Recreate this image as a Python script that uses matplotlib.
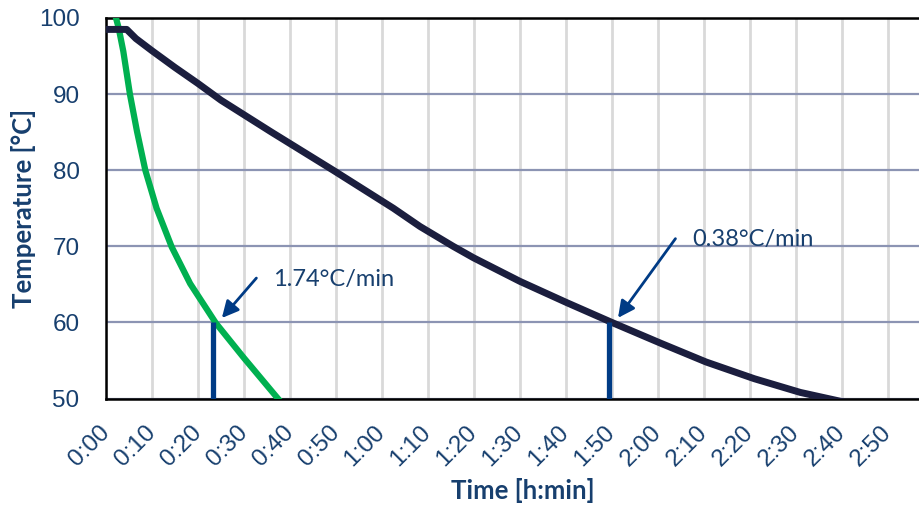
import matplotlib.pyplot as plt

plt.rcParams['font.family'] = ['Liberation Sans', 'DejaVu Sans']

# time in minutes, temperature in °C
navy_t = [0, 4.5, 6.5, 10, 15, 20, 25, 36, 49.4, 62.5, 68.3, 75.5, 79.9, 90, 100.2, 110,
          120.5, 130.5, 141, 151, 157, 160]
navy_temp = [98.5, 98.5, 97.3, 95.7, 93.5, 91.4, 89.2, 85.0, 80.0, 75.0, 72.6, 70.0, 68.5,
             65.4, 62.6, 60.0, 57.3, 54.8, 52.6, 50.8, 50.0, 49.6]

green_t = [1.9, 2.17, 2.75, 3.77, 5.2, 6.74, 8.55, 11.0, 14.3, 18.3, 23.9, 29.9, 37.1, 38.5]
green_temp = [100.6, 100.0, 98.7, 95.6, 90.0, 85.1, 80.0, 75.0, 69.9, 65.1, 59.9, 55.4, 50.2, 49.2]

mark_t = [23.3, 109.4]
mark_labels = ['1.74°C/min', '0.38°C/min']
mark_tip = [(24.8, 60.3), (111.0, 60.3)]
mark_text = [(36.3, 65.7), (127.4, 70.9)]

xticks = list(range(0, 180, 10))
xlabels = ['%d:%02d' % (m // 60, m % 60) for m in xticks]
yticks = [50, 60, 70, 80, 90, 100]

tick_color = '#173f6e'
arrow_color = '#003b85'

fig = plt.figure(figsize=(9.2, 5.05), dpi=100)
ax = fig.add_axes([106 / 920, 1 - 398.5 / 505, 814 / 920, (398.5 - 18) / 505])

ax.plot(green_t, green_temp, color='#00b050', linewidth=4.5, solid_capstyle='butt',
        solid_joinstyle='round', zorder=3)
ax.plot(navy_t, navy_temp, color='#1b1e3e', linewidth=5, solid_joinstyle='round', zorder=4)

for t in mark_t:
    ax.plot([t, t], [50, 60], color=arrow_color, linewidth=3.8, solid_capstyle='butt', zorder=5)

for lab, tip, pos in zip(mark_labels, mark_tip, mark_text):
    ax.annotate('', xy=tip, xytext=(pos[0] - 3.2, pos[1] + 0.4),
                arrowprops=dict(arrowstyle='-|>,head_length=1.0,head_width=0.5',
                                color=arrow_color, lw=2), zorder=6)
    ax.text(pos[0], pos[1], lab, fontsize=17, color=tick_color, family=['Lato', 'DejaVu Sans'],
            ha='left', va='center', zorder=6)

ax.set_xlim(0, 814 / 4.598)
ax.set_ylim(50, 100)
ax.set_xticks(xticks)
ax.set_xticklabels(xlabels, rotation=45, ha='right', va='center', rotation_mode='anchor')
ax.set_yticks(yticks)
ax.tick_params(axis='both', length=0, labelsize=17.5, labelcolor=tick_color)
ax.tick_params(axis='y', pad=19)
ax.tick_params(axis='x', pad=22)

ax.grid(axis='x', color='#d9d9d9', linewidth=2)
ax.grid(axis='y', color='#8c94b3', linewidth=1.6)
ax.set_axisbelow(True)

for s in ['left', 'bottom', 'top']:
    ax.spines[s].set_linewidth(1.8)
    ax.spines[s].set_color('black')
ax.spines['right'].set_visible(False)

ax.set_ylabel('Temperature [°C]', fontsize=18.5, fontweight='bold', color=tick_color,
              family=['Lato', 'DejaVu Sans'])
ax.yaxis.set_label_coords((36 - 106) / 814, 0.5)
ax.set_xlabel('Time [h:min]', fontsize=18.5, fontweight='bold', color=tick_color,
              family=['Lato', 'DejaVu Sans'])
ax.xaxis.set_label_coords((523 - 106) / 814, -(478 - 398.5) / 380.5)

fig.savefig('out.png', dpi=100)
